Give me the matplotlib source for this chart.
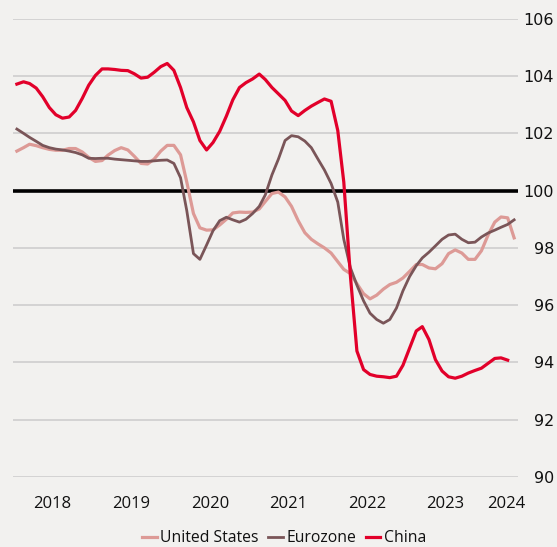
import matplotlib
matplotlib.use("Agg")
import matplotlib.pyplot as plt
import pandas as pd
import numpy as np

# Monthly data, Jan 2018 onward
start = "2018-01-01"

us = [101.38, 101.50, 101.62, 101.57, 101.50, 101.44, 101.41, 101.41, 101.47, 101.47,
      101.35, 101.16, 101.02, 101.05, 101.24, 101.40, 101.50, 101.42, 101.20, 100.95,
      100.93, 101.10, 101.38, 101.58, 101.58, 101.25, 100.30, 99.20, 98.70, 98.62,
      98.63, 98.80, 99.00, 99.22, 99.25, 99.24, 99.25, 99.36, 99.62, 99.90,
      99.95, 99.78, 99.45, 98.95, 98.53, 98.30, 98.14, 98.00, 97.82, 97.52,
      97.25, 97.10, 96.75, 96.40, 96.22, 96.35, 96.56, 96.72, 96.80, 96.95,
      97.18, 97.42, 97.42, 97.30, 97.27, 97.45, 97.80, 97.93, 97.82, 97.60,
      97.60, 97.90, 98.45, 98.90, 99.08, 99.05, 98.35]

eurozone = [102.15, 102.00, 101.86, 101.72, 101.58, 101.50, 101.45, 101.42, 101.38, 101.33,
            101.25, 101.13, 101.12, 101.13, 101.13, 101.10, 101.08, 101.06, 101.04, 101.02,
            101.02, 101.04, 101.06, 101.07, 100.95, 100.45, 99.30, 97.80, 97.60, 98.10,
            98.60, 98.95, 99.07, 98.98, 98.90, 99.00, 99.20, 99.45, 99.85, 100.55,
            101.10, 101.75, 101.92, 101.88, 101.73, 101.50, 101.10, 100.72, 100.25, 99.60,
            98.30, 97.30, 96.70, 96.15, 95.72, 95.50, 95.37, 95.50, 95.90, 96.50,
            97.00, 97.38, 97.65, 97.85, 98.07, 98.30, 98.45, 98.48, 98.30, 98.18,
            98.20, 98.38, 98.52, 98.62, 98.72, 98.82, 98.98]

china = [103.72, 103.80, 103.74, 103.58, 103.28, 102.90, 102.65, 102.53, 102.57, 102.80,
         103.22, 103.68, 104.02, 104.25, 104.25, 104.23, 104.20, 104.19, 104.08, 103.93,
         103.96, 104.13, 104.33, 104.44, 104.20, 103.60, 102.90, 102.40, 101.75, 101.42,
         101.68, 102.07, 102.60, 103.17, 103.60, 103.77, 103.90, 104.07, 103.88, 103.60,
         103.38, 103.15, 102.78, 102.62, 102.80, 102.95, 103.08, 103.20, 103.12, 102.10,
         100.30, 97.00, 94.40, 93.75, 93.58, 93.52, 93.50, 93.47, 93.52, 93.90,
         94.50, 95.10, 95.25, 94.80, 94.10, 93.70, 93.50, 93.45, 93.52, 93.63,
         93.72, 93.80, 93.97, 94.14, 94.16, 94.08]

series_names = ["United States", "Eurozone", "China"]
year_labels = ["2018", "2019", "2020", "2021", "2022", "2023", "2024"]
year_tick_dates = ["2018-06-16", "2019-06-16", "2020-06-16", "2021-06-16",
                   "2022-06-16", "2023-06-16", "2024-03-25"]
y_ticks = [90, 92, 94, 96, 98, 100, 102, 104, 106]

bg = "#f2f1ef"
colors = {"United States": "#dd9a96", "Eurozone": "#7a5558", "China": "#e2002a"}

fig = plt.figure(figsize=(5.57, 5.47), dpi=100, facecolor=bg)
ax = fig.add_axes([13/557, (547-477)/547, (518-13)/557, (477-18.8)/547])
ax.set_facecolor(bg)

def dates(vals):
    return pd.date_range(start, periods=len(vals), freq="MS")

for name, vals in zip(series_names, [us, eurozone, china]):
    lw = 2.3 if name != "Eurozone" else 2.0
    ax.plot(dates(vals), vals, color=colors[name], lw=lw, label=name,
            solid_joinstyle="round", zorder=3)

ax.axhline(100, color="black", lw=2.6, zorder=2)

ax.set_ylim(90, 106)
ax.set_xlim(pd.Timestamp("2017-12-14"), pd.Timestamp("2024-05-19"))
ax.set_yticks(y_ticks)
ax.set_yticklabels([str(v) for v in y_ticks])
ax.yaxis.tick_right()
ax.tick_params(axis="y", length=0, pad=26, labelsize=11.5, colors="#111111")
for lab in ax.get_yticklabels():
    lab.set_horizontalalignment("right")
ax.grid(axis="y", color="#cbcbcb", lw=1.1, zorder=1)

ax.set_xticks(pd.to_datetime(year_tick_dates))
ax.set_xticklabels(year_labels, family=["Open Sans", "DejaVu Sans"])
ax.tick_params(axis="x", length=0, pad=14, labelsize=12, colors="#111111")

for s in ax.spines.values():
    s.set_visible(False)

fig.legend(loc="lower center", bbox_to_anchor=(0.51, -0.024), ncol=3, frameon=False,
           prop={"family": ["Open Sans", "DejaVu Sans"], "size": 11.3},
           handlelength=0.95, handletextpad=0.2, columnspacing=0.6,
           labelcolor="#111111")

fig.savefig("out.png", dpi=100, facecolor=bg)
